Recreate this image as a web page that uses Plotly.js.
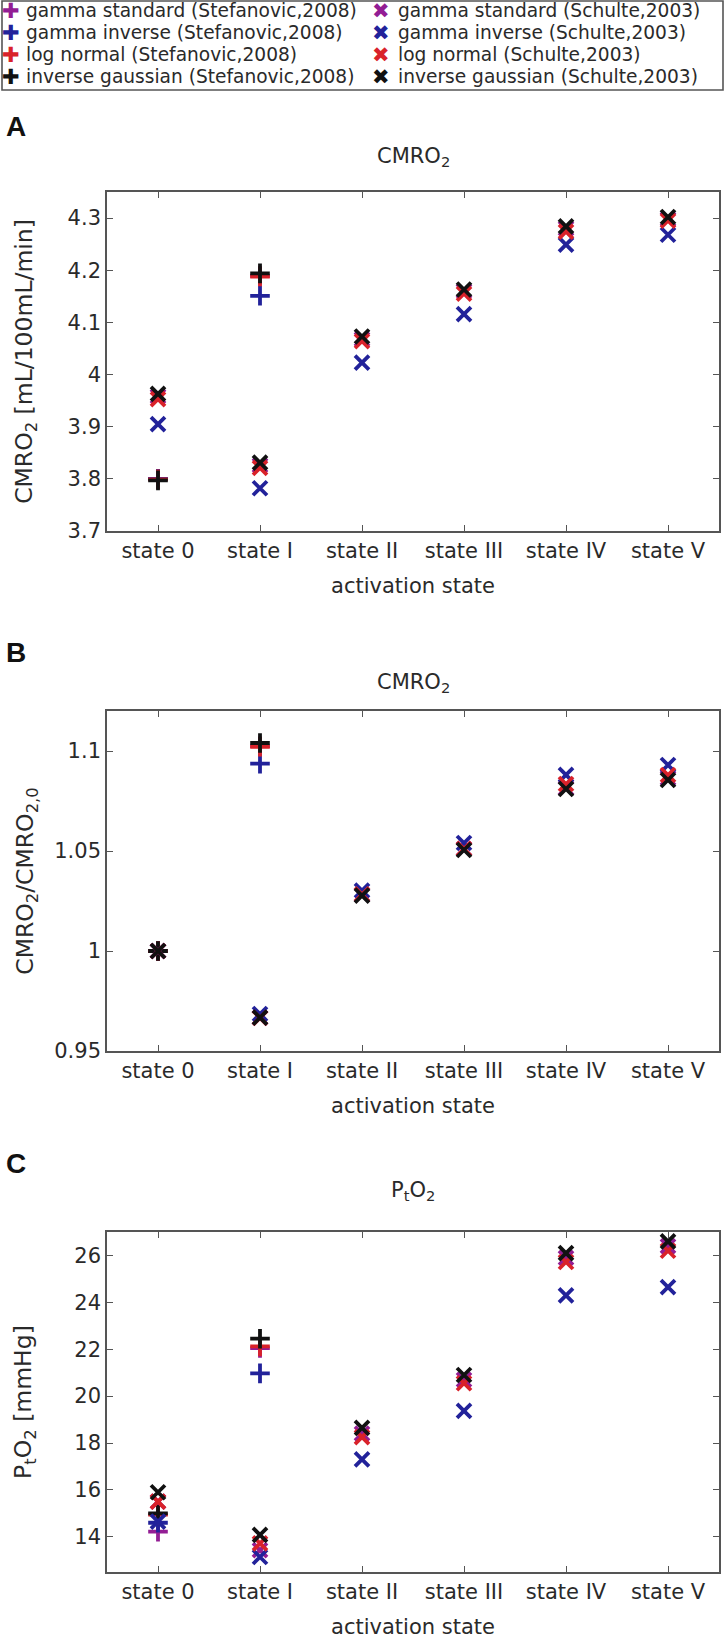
<!DOCTYPE html>
<html><head><meta charset="utf-8">
<script src="https://cdn.plot.ly/plotly-3.0.1.min.js"></script>
<style>html,body{margin:0;padding:0;background:#fff}</style>
</head><body><div id="chart" style="width:725px;height:1642px"></div>
<script>
// ---- categories ----
const states = ['state 0', 'state I', 'state II', 'state III', 'state IV', 'state V'];

// ---- Panel A: CMRO2 [mL/100mL/min] ----
const gammaStdStefA  = [3.800, 4.189, null, null, null, null];
const gammaInvStefA  = [3.800, 4.151, null, null, null, null];
const logNormStefA   = [3.799, 4.188, null, null, null, null];
const invGaussStefA  = [3.797, 4.194, null, null, null, null];
const gammaStdSchA   = [3.958, 3.826, 4.068, 4.160, 4.280, 4.298];
const gammaInvSchA   = [3.905, 3.782, 4.023, 4.116, 4.249, 4.268];
const logNormSchA    = [3.953, 3.821, 4.064, 4.155, 4.274, 4.295];
const invGaussSchA   = [3.963, 3.831, 4.073, 4.163, 4.284, 4.302];

// ---- Panel B: CMRO2 / CMRO2,0 ----
const gammaStdStefB  = [1.000, 1.1024, null, null, null, null];
const gammaInvStefB  = [1.000, 1.0937, null, null, null, null];
const logNormStefB   = [1.000, 1.1021, null, null, null, null];
const invGaussStefB  = [1.000, 1.1040, null, null, null, null];
const gammaStdSchB   = [1.000, 0.9667, 1.0280, 1.0511, 1.0815, 1.0864];
const gammaInvSchB   = [1.000, 0.9685, 1.0302, 1.0540, 1.0881, 1.0930];
const logNormSchB    = [1.000, 0.9666, 1.0283, 1.0511, 1.0835, 1.0880];
const invGaussSchB   = [1.000, 0.9667, 1.0277, 1.0505, 1.0810, 1.0855];

// ---- Panel C: PtO2 [mmHg] ----
const gammaStdStefC  = [14.22, 22.05, null, null, null, null];
const gammaInvStefC  = [14.60, 20.97, null, null, null, null];
const logNormStefC   = [14.95, 22.12, null, null, null, null];
const invGaussStefC  = [15.00, 22.45, null, null, null, null];
const gammaStdSchC   = [15.50, 13.43, 18.40, 20.70, 25.90, 26.40];
const gammaInvSchC   = [14.65, 13.14, 17.30, 19.37, 24.30, 24.65];
const logNormSchC    = [15.50, 13.72, 18.25, 20.55, 25.72, 26.20];
const invGaussSchC   = [15.90, 14.08, 18.65, 20.90, 26.10, 26.60];

// ---- series names (legend) ----
const seriesNames = [
  'gamma standard (Stefanovic,2008)', 'gamma inverse (Stefanovic,2008)',
  'log normal (Stefanovic,2008)', 'inverse gaussian (Stefanovic,2008)',
  'gamma standard (Schulte,2003)', 'gamma inverse (Schulte,2003)',
  'log normal (Schulte,2003)', 'inverse gaussian (Schulte,2003)'
];

// ---- styling ----
const PURPLE = '#931d94', BLUE = '#22229a', RED = '#d9222a', BLACK = '#111111';
const FONT = 'DejaVu Sans, Liberation Sans, Arial, sans-serif';
const TXT = '#2a2a2a';
const W = 725, H = 1642;
const py = y => 1 - y / H;
const px = x => x / W;

const seriesDefs = [
  {data: [gammaStdStefA, gammaStdStefB, gammaStdStefC], color: PURPLE, sym: 'cross-thin', glyph: '✚'},
  {data: [gammaInvStefA, gammaInvStefB, gammaInvStefC], color: BLUE,   sym: 'cross-thin', glyph: '✚'},
  {data: [logNormStefA,  logNormStefB,  logNormStefC],  color: RED,    sym: 'cross-thin', glyph: '✚'},
  {data: [invGaussStefA, invGaussStefB, invGaussStefC], color: BLACK,  sym: 'cross-thin', glyph: '✚'},
  {data: [gammaStdSchA,  gammaStdSchB,  gammaStdSchC],  color: PURPLE, sym: 'x-thin', glyph: '✖'},
  {data: [gammaInvSchA,  gammaInvSchB,  gammaInvSchC],  color: BLUE,   sym: 'x-thin', glyph: '✖'},
  {data: [logNormSchA,   logNormSchB,   logNormSchC],   color: RED,    sym: 'x-thin', glyph: '✖'},
  {data: [invGaussSchA,  invGaussSchB,  invGaussSchC],  color: BLACK,  sym: 'x-thin', glyph: '✖'}
];

const axisSuffix = ['', '2', '3'];
const traces = [];
for (let p = 0; p < 3; p++) {
  seriesDefs.forEach((s, i) => {
    traces.push({
      type: 'scatter', mode: 'markers',
      x: states, y: s.data[p],
      name: seriesNames[i],
      legendgroup: 'g' + i,
      showlegend: false,
      xaxis: 'x' + axisSuffix[p], yaxis: 'y' + axisSuffix[p],
      marker: {symbol: s.sym, size: 14, color: s.color, line: {width: 3.8, color: s.color}},
      hoverinfo: 'x+y+name'
    });
  });
}

const xDom = [107 / W, 719 / W];
const boxes = [[192, 531], [711, 1051], [1232, 1572]];

function xAxis(anchor) {
  return {
    domain: xDom, anchor: anchor, type: 'category', range: [-0.5, 5.5],
    showline: true, linecolor: '#555', linewidth: 1.6, mirror: 'allticks',
    ticks: 'inside', ticklen: 6, tickwidth: 1.4, tickcolor: '#555',
    showgrid: false, zeroline: false,
    tickfont: {family: FONT, size: 21, color: TXT},
    title: {text: 'activation state', font: {family: FONT, size: 21, color: TXT}, standoff: 16}
  };
}
function yAxis(anchor, box, extra) {
  return Object.assign({
    domain: [py(box[1]), py(box[0])], anchor: anchor,
    showline: true, linecolor: '#555', linewidth: 1.6, mirror: 'allticks',
    ticks: 'inside', ticklen: 6, tickwidth: 1.4, tickcolor: '#555',
    showgrid: false, zeroline: false,
    tickfont: {family: FONT, size: 21, color: TXT}
  }, extra);
}

// ---- legend built as text + glyphs inside a framed box (two columns) ----
const annotations = [];
const legendCols = [{mx: 11, tx: 24}, {mx: 381, tx: 396}];
const legendRows = [10.5, 32.5, 54.5, 76.5];
seriesDefs.forEach((s, i) => {
  const col = legendCols[i < 4 ? 0 : 1];
  const ry = legendRows[i % 4];
  annotations.push({
    text: s.glyph, x: px(col.mx), xanchor: 'center', y: py(ry), yanchor: 'middle',
    xref: 'paper', yref: 'paper', showarrow: false,
    font: {family: 'DejaVu Sans, sans-serif', size: 21, color: s.color}
  });
  annotations.push({
    text: seriesNames[i], x: px(col.tx), xanchor: 'left', y: py(ry), yanchor: 'middle',
    xref: 'paper', yref: 'paper', showarrow: false,
    font: {family: FONT, size: 18.6, color: TXT}
  });
});

// panel letters and titles
const panelLetters = ['A', 'B', 'C'];
const letterY = [126, 652, 1163];
const panelTitles = ['CMRO<sub>2</sub>', 'CMRO<sub>2</sub>', 'P<sub>t</sub>O<sub>2</sub>'];
const titleY = [157, 683, 1191];
for (let p = 0; p < 3; p++) {
  annotations.push({
    text: '<b>' + panelLetters[p] + '</b>', x: 0.005, xanchor: 'left', y: py(letterY[p]), yanchor: 'middle',
    xref: 'paper', yref: 'paper', showarrow: false,
    font: {family: 'Liberation Sans, Arial, sans-serif', size: 28, color: '#111'}
  });
  annotations.push({
    text: panelTitles[p], x: (xDom[0] + xDom[1]) / 2, xanchor: 'center', y: py(titleY[p]), yanchor: 'middle',
    xref: 'paper', yref: 'paper', showarrow: false,
    font: {family: FONT, size: 21, color: TXT}
  });
}

const layout = {
  width: W, height: H,
  margin: {l: 0, r: 0, t: 0, b: 0},
  paper_bgcolor: '#fff', plot_bgcolor: '#fff',
  showlegend: false,
  xaxis: xAxis('y'), xaxis2: xAxis('y2'), xaxis3: xAxis('y3'),
  yaxis: yAxis('x', boxes[0], {
    range: [3.7, 4.35], tick0: 3.7, dtick: 0.1,
    title: {text: 'CMRO<sub>2</sub> [mL/100mL/min]', font: {family: FONT, size: 23.5, color: TXT}, standoff: 28}
  }),
  yaxis2: yAxis('x2', boxes[1], {
    range: [0.95, 1.12], tickmode: 'array', tickvals: [0.95, 1, 1.05, 1.1], ticktext: ['0.95', '1', '1.05', '1.1'],
    title: {text: 'CMRO<sub>2</sub>/CMRO<sub>2,0</sub>', font: {family: FONT, size: 23.5, color: TXT}, standoff: 14}
  }),
  yaxis3: yAxis('x3', boxes[2], {
    range: [12.5, 27], tick0: 14, dtick: 2,
    title: {text: 'P<sub>t</sub>O<sub>2</sub> [mmHg]', font: {family: FONT, size: 23.5, color: TXT}, standoff: 36}
  }),
  shapes: [
    {type: 'rect', xref: 'paper', yref: 'paper', x0: px(2), x1: px(723), y0: py(90), y1: py(1),
     line: {color: '#555', width: 1.6}, fillcolor: 'rgba(0,0,0,0)', layer: 'below'}
  ],
  annotations: annotations
};

Plotly.newPlot('chart', traces, layout, {displayModeBar: false});
</script>
</body></html>
